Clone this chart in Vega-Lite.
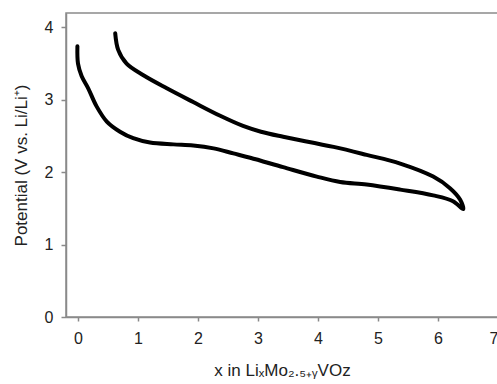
{
  "$schema": "https://vega.github.io/schema/vega-lite/v6.json",
  "width": 432,
  "height": 304,
  "autosize": {"type": "none"},
  "padding": {"left": 66, "top": 13, "right": 0, "bottom": 67},
  "background": "white",
  "config": {
    "view": {"stroke": "#8a8a8a", "strokeWidth": 1.5},
    "font": "Liberation Sans",
    "axis": {
      "grid": false,
      "domainColor": "#8a8a8a",
      "domainWidth": 1.5,
      "tickColor": "#8a8a8a",
      "tickWidth": 1.5,
      "labelColor": "#222222",
      "titleColor": "#222222",
      "labelFont": "Liberation Sans",
      "titleFont": "Liberation Sans",
      "labelFontSize": 16,
      "titleFontSize": 17,
      "titleFontWeight": "normal"
    }
  },
  "data": {
    "values": [
      {"o": 1, "x": -0.01, "v": 3.74},
      {"o": 2, "x": 0.0, "v": 3.5},
      {"o": 3, "x": 0.06, "v": 3.33},
      {"o": 4, "x": 0.17, "v": 3.16},
      {"o": 5, "x": 0.31, "v": 2.91},
      {"o": 6, "x": 0.48, "v": 2.7},
      {"o": 7, "x": 0.7, "v": 2.56},
      {"o": 8, "x": 0.92, "v": 2.47},
      {"o": 9, "x": 1.2, "v": 2.41},
      {"o": 10, "x": 1.59, "v": 2.385},
      {"o": 11, "x": 1.92, "v": 2.37},
      {"o": 12, "x": 2.26, "v": 2.33},
      {"o": 13, "x": 2.59, "v": 2.26},
      {"o": 14, "x": 2.87, "v": 2.2},
      {"o": 15, "x": 3.42, "v": 2.07},
      {"o": 16, "x": 3.98, "v": 1.94},
      {"o": 17, "x": 4.37, "v": 1.865},
      {"o": 18, "x": 4.81, "v": 1.83},
      {"o": 19, "x": 5.37, "v": 1.76},
      {"o": 20, "x": 5.92, "v": 1.68},
      {"o": 21, "x": 6.25, "v": 1.6},
      {"o": 22, "x": 6.42, "v": 1.49},
      {"o": 23, "x": 6.37, "v": 1.62},
      {"o": 24, "x": 6.2, "v": 1.78},
      {"o": 25, "x": 5.92, "v": 1.94},
      {"o": 26, "x": 5.37, "v": 2.12},
      {"o": 27, "x": 4.81, "v": 2.24},
      {"o": 28, "x": 4.26, "v": 2.35},
      {"o": 29, "x": 3.42, "v": 2.49},
      {"o": 30, "x": 3.05, "v": 2.56},
      {"o": 31, "x": 2.75, "v": 2.64},
      {"o": 32, "x": 2.37, "v": 2.78},
      {"o": 33, "x": 1.92, "v": 2.97},
      {"o": 34, "x": 1.48, "v": 3.16},
      {"o": 35, "x": 1.09, "v": 3.34},
      {"o": 36, "x": 0.81, "v": 3.5},
      {"o": 37, "x": 0.67, "v": 3.69},
      {"o": 38, "x": 0.62, "v": 3.92}
    ]
  },
  "mark": {"type": "line", "color": "black", "strokeWidth": 4, "interpolate": "catmull-rom", "strokeCap": "round", "strokeJoin": "round"},
  "encoding": {
    "x": {
      "field": "x",
      "type": "quantitative",
      "scale": {"domain": [-0.2, 7.0], "nice": false, "zero": false},
      "axis": {
        "values": [0, 1, 2, 3, 4, 5, 6, 7],
        "tickSize": 4,
        "labelPadding": 9,
        "titlePadding": 16,
        "title": "x in LiₓMo₂.₅₊ᵧVOz"
      }
    },
    "y": {
      "field": "v",
      "type": "quantitative",
      "scale": {"domain": [0, 4.2], "nice": false},
      "axis": {
        "values": [0, 1, 2, 3, 4],
        "tickSize": 5,
        "labelPadding": 8,
        "titlePadding": 14,
        "title": "Potential (V vs. Li/Li⁺)"
      }
    },
    "order": {"field": "o", "type": "quantitative"}
  }
}
